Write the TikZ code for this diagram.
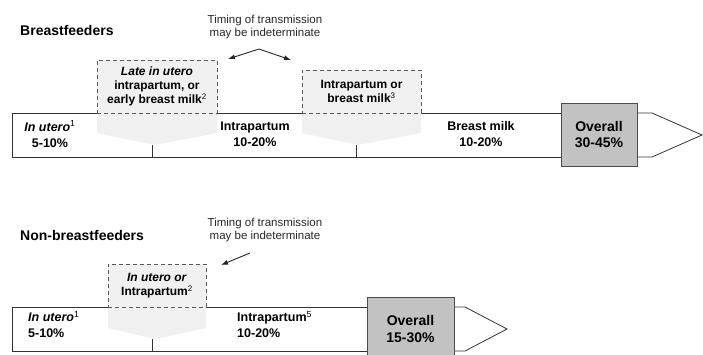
\documentclass[tikz,border=0pt]{standalone}
\usepackage{fontspec}
\setmainfont{Liberation Sans}
\usetikzlibrary{shapes}
\usetikzlibrary{arrows.meta}

\begin{document}
\begin{tikzpicture}[x=1pt, y=-1pt,
                    barline/.style={draw=black!80, line width=0.8pt},
                    chevron/.style={fill=gray!12},
                    guessbox/.style={draw=black!65, dash pattern=on 4pt off 3pt, line width=0.8pt,
                                     fill=gray!12, inner sep=0pt, align=center,
                                     font=\bfseries\fontsize{12}{14}\selectfont},
                    total/.style={draw=black!70, line width=0.8pt, fill=black!24, inner sep=0pt,
                                  align=center, font=\bfseries\fontsize{14}{17}\selectfont},
                    stage/.style={inner sep=0pt, align=center, font=\bfseries\fontsize{12.5}{16}\selectfont},
                    title/.style={inner sep=0pt, anchor=west, font=\bfseries\fontsize{14}{16}\selectfont},
                    remark/.style={inner sep=0pt, align=center, text=black!85, font=\fontsize{11.5}{13}\selectfont},
                    pointer/.style={draw=black!85, line width=0.9pt},
                    tip/.tip={Latex[length=7pt, width=5pt]}]
    \useasboundingbox (0,0) rectangle (703,354);

    \node[title] (titleA) at (20,30) {Breastfeeders};
    \node[remark] (timingA) at (265,27) {Timing of transmission\\may be indeterminate};

    \fill[chevron] (97,113) -- (97,133) -- (154,145) -- (217,133) -- (217,113) -- cycle;
    \fill[chevron] (302,113) -- (302,133) -- (358,145) -- (421,133) -- (421,113) -- cycle;
    \draw[barline] (97,113) -- (12,113) -- (12,157) -- (561,157);
    \draw[barline] (217,113) -- (302,113);
    \draw[barline] (421,113) -- (561,113);
    \draw[barline] (637,113) -- (652,113) -- (702,135) -- (652,157) -- (637,157);
    \draw[barline] (152,145) -- (152,157);
    \draw[barline] (356,145) -- (356,157);

    \node[guessbox, minimum width=120pt, minimum height=53pt] (lateA) at (157,86.5)
        {\textit{Late in utero}\\intrapartum, or\\early breast milk\textsuperscript{\mdseries 2}};
    \node[guessbox, minimum width=119pt, minimum height=43pt] (milkA) at (361.5,91.5)
        {Intrapartum or\\breast milk\textsuperscript{\mdseries 3}};
    \node[total, minimum width=76pt, minimum height=63pt] (overallA) at (599,134.5) {Overall\\30-45\%};

    \node[stage] (uteroA) at (50,134) {\textit{In utero}\textsuperscript{\mdseries 1}\\5-10\%};
    \node[stage] (partumA) at (255,134) {Intrapartum\\10-20\%};
    \node[stage] (breastA) at (481,134.5) {Breast milk\\10-20\%};

    \coordinate (leftA) at (228,59);
    \coordinate (apexA) at (259,49);
    \coordinate (rightA) at (291,60);
    \draw[pointer, tip-tip] (leftA) -- (apexA) -- (rightA);

    \node[title] (titleB) at (20,235) {Non-breastfeeders};
    \node[remark] (timingB) at (265,230) {Timing of transmission\\may be indeterminate};

    \fill[chevron] (108,307) -- (108,328) -- (155,339) -- (206,328) -- (206,307) -- cycle;
    \draw[barline] (108,307) -- (12,307) -- (12,351) -- (367,351);
    \draw[barline] (206,307) -- (367,307);
    \draw[barline] (454,307) -- (465,307) -- (507,329) -- (465,351) -- (454,351);
    \draw[barline] (152,339) -- (152,351);

    \node[guessbox, minimum width=98pt, minimum height=43pt] (earlyB) at (157,285.5)
        {\textit{In utero or}\\Intrapartum\textsuperscript{\mdseries 2}};
    \node[total, minimum width=87pt, minimum height=63pt] (overallB) at (410.5,328.5) {Overall\\15-30\%};

    \node[stage, anchor=west, align=left] (uteroB) at (28,324.5) {\textit{In utero}\textsuperscript{\mdseries 1}\\5-10\%};
    \node[stage, anchor=west, align=left] (partumB) at (237,324.5) {Intrapartum\textsuperscript{\mdseries 5}\\10-20\%};

    \coordinate (tailB) at (250,253);
    \coordinate (headB) at (221,265);
    \draw[pointer, -tip] (tailB) -- (headB);
\end{tikzpicture}
\end{document}
